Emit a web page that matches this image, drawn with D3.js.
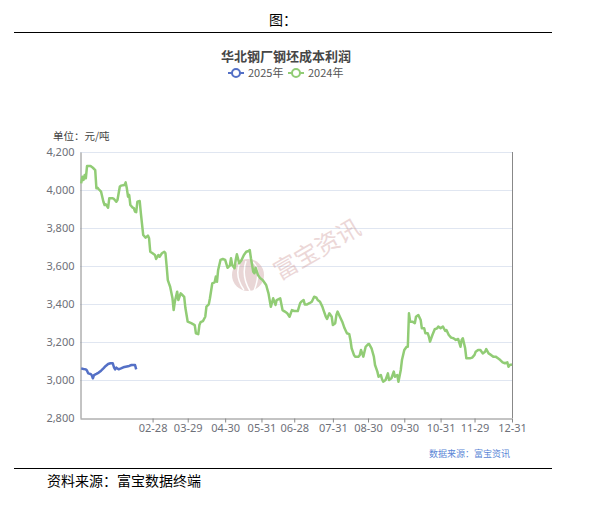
<!DOCTYPE html>
<html><head><meta charset="utf-8">
<script src="https://cdn.jsdelivr.net/npm/d3@7"></script>
<style>
html,body{margin:0;padding:0;background:#fff;}
svg{display:block;font-family:"Noto Sans CJK SC","Noto Sans",sans-serif;}
</style></head>
<body><svg id="c" width="600" height="506"></svg>
<script>
const title = "华北钢厂钢坯成本利润";
const seriesNames = ["2025年", "2024年"];
const yTicks = [2800, 3000, 3200, 3400, 3600, 3800, 4000, 4200];
const xTickDates = ["2024-02-28","2024-03-29","2024-04-30","2024-05-31","2024-06-28","2024-07-31","2024-08-30","2024-09-30","2024-10-31","2024-11-29","2024-12-31"];
const xDomain = ["2023-12-28", "2024-12-31"];

const dates2024 = [
"2023-12-29","2023-12-30","2023-12-31",
"2024-01-01","2024-01-02","2024-01-03","2024-01-06","2024-01-08","2024-01-10","2024-01-11","2024-01-12","2024-01-13","2024-01-15","2024-01-17","2024-01-18","2024-01-19","2024-01-21","2024-01-22","2024-01-25","2024-01-26","2024-01-28","2024-01-29","2024-01-31",
"2024-02-01","2024-02-04","2024-02-05","2024-02-06","2024-02-07","2024-02-08","2024-02-09","2024-02-11","2024-02-12","2024-02-13","2024-02-14","2024-02-15","2024-02-17","2024-02-18","2024-02-20","2024-02-22","2024-02-24","2024-02-25","2024-02-26","2024-02-28",
"2024-03-01","2024-03-02","2024-03-04","2024-03-05","2024-03-07","2024-03-09","2024-03-10","2024-03-11","2024-03-12","2024-03-14","2024-03-16","2024-03-17","2024-03-18","2024-03-20","2024-03-21","2024-03-23","2024-03-24","2024-03-26","2024-03-27","2024-03-29",
"2024-04-01","2024-04-04","2024-04-05","2024-04-07","2024-04-08","2024-04-09","2024-04-11","2024-04-13","2024-04-14","2024-04-16","2024-04-17","2024-04-19","2024-04-21","2024-04-22","2024-04-23","2024-04-24","2024-04-26","2024-04-28","2024-04-30",
"2024-05-02","2024-05-04","2024-05-05","2024-05-06","2024-05-08","2024-05-09","2024-05-10","2024-05-12","2024-05-14","2024-05-16","2024-05-18","2024-05-20","2024-05-21","2024-05-22","2024-05-24","2024-05-25","2024-05-26","2024-05-28","2024-05-29","2024-05-30",
"2024-06-01","2024-06-04","2024-06-06","2024-06-08","2024-06-10","2024-06-12","2024-06-13","2024-06-16","2024-06-18","2024-06-20","2024-06-22","2024-06-24","2024-06-26","2024-06-28",
"2024-07-01","2024-07-03","2024-07-04","2024-07-06","2024-07-07","2024-07-09","2024-07-11","2024-07-13","2024-07-15","2024-07-17","2024-07-18","2024-07-20","2024-07-22","2024-07-23","2024-07-25","2024-07-26","2024-07-28","2024-07-30","2024-07-31",
"2024-08-02","2024-08-03","2024-08-04","2024-08-06","2024-08-08","2024-08-10","2024-08-12","2024-08-14","2024-08-15","2024-08-16","2024-08-18","2024-08-19","2024-08-22","2024-08-23","2024-08-24","2024-08-26","2024-08-28","2024-08-30","2024-08-31",
"2024-09-02","2024-09-04","2024-09-05","2024-09-07","2024-09-08","2024-09-10","2024-09-11","2024-09-12","2024-09-14","2024-09-16","2024-09-17","2024-09-19","2024-09-21","2024-09-22","2024-09-24","2024-09-25","2024-09-27","2024-09-28","2024-09-30",
"2024-10-02","2024-10-03","2024-10-04","2024-10-05","2024-10-07","2024-10-09","2024-10-10","2024-10-12","2024-10-14","2024-10-15","2024-10-17","2024-10-18","2024-10-20","2024-10-21","2024-10-22","2024-10-24","2024-10-26","2024-10-28","2024-10-29","2024-10-31",
"2024-11-02","2024-11-04","2024-11-05","2024-11-07","2024-11-09","2024-11-11","2024-11-13","2024-11-15","2024-11-17","2024-11-18","2024-11-19","2024-11-21","2024-11-22","2024-11-25","2024-11-27","2024-11-29","2024-11-30",
"2024-12-02","2024-12-04","2024-12-06","2024-12-08","2024-12-09","2024-12-11","2024-12-13","2024-12-15","2024-12-17","2024-12-19","2024-12-21","2024-12-23","2024-12-25","2024-12-27","2024-12-28","2024-12-29","2024-12-31"
];
const values2024 = [
4035,4070,4053,
4079,4062,4126,4126,4117,4105,4009,4012,4004,3991,3938,3921,3925,3907,3956,3956,3953,3938,3947,4017,
4023,4026,4040,4009,3965,3974,3921,3907,3904,3886,3883,3938,3942,3877,3763,3749,3760,3746,3675,3667,
3658,3637,3658,3649,3667,3675,3667,3600,3526,3491,3430,3368,3412,3465,3421,3456,3450,3438,3380,3307,
3299,3289,3246,3241,3289,3304,3310,3333,3386,3398,3430,3509,3514,3544,3517,3579,3632,3637,3632,
3591,3602,3641,3605,3588,3632,3662,3614,3632,3658,3675,3679,3684,3641,3570,3562,3591,3553,3544,3535,
3526,3500,3456,3385,3430,3395,3421,3430,3368,3360,3351,3333,3368,3363,
3363,3404,3412,3421,3398,3398,3404,3412,3438,3433,3421,3412,3386,3368,3333,3321,3351,3333,3289,
3299,3342,3360,3333,3307,3272,3246,3241,3211,3167,3132,3123,3123,3132,3158,3123,3175,3188,3189,
3167,3123,3079,3044,3017,3026,3004,2991,3000,3035,3000,3009,3044,3017,3026,2991,3053,3105,3158,
3175,3175,3351,3307,3307,3299,3333,3342,3316,3272,3272,3246,3246,3228,3202,3237,3267,3272,3281,3272,
3281,3258,3263,3237,3223,3220,3211,3216,3175,3211,3220,3167,3114,3114,3118,3132,3149,
3158,3158,3140,3149,3163,3140,3132,3123,3123,3114,3105,3093,3088,3093,3070,3079,3082
];

const dates2025 = [
"2024-12-29","2024-12-31",
"2025-01-02","2025-01-03","2025-01-04","2025-01-06","2025-01-07","2025-01-08","2025-01-09","2025-01-11","2025-01-13","2025-01-15","2025-01-17","2025-01-19","2025-01-21","2025-01-23","2025-01-25","2025-01-26","2025-01-27","2025-01-28","2025-01-30",
"2025-02-01","2025-02-03","2025-02-05","2025-02-08","2025-02-10","2025-02-12","2025-02-13","2025-02-14"
];
const values2025 = [
3061,3058,
3056,3049,3035,3032,3026,3009,3026,3032,3039,3049,3061,3074,3084,3088,3088,3067,3056,3065,3056,
3061,3067,3070,3074,3079,3079,3079,3056
];

const colors = ["#5470c6", "#91cc75"];

const svg = d3.select("#c");
const parse = d3.timeParse("%Y-%m-%d");
const fmtTick = d3.timeFormat("%m-%d");

const plotL = 80, plotR = 512, plotT = 152, plotB = 418;
const x = d3.scaleTime().domain(xDomain.map(parse)).range([plotL, plotR]);
const y = d3.scaleLinear().domain([2800, 4200]).range([plotB, plotT]);

// header
svg.append("text").attr("x", 283).attr("y", 25).attr("text-anchor", "middle")
  .attr("font-size", 14).attr("fill", "#000").text("图：");
svg.append("line").attr("x1", 14).attr("x2", 552).attr("y1", 32.5).attr("y2", 32.5)
  .attr("stroke", "#000").attr("stroke-width", 1);

svg.append("text").attr("x", 286).attr("y", 61).attr("text-anchor", "middle")
  .attr("font-size", 13).attr("font-weight", "bold").attr("fill", "#464646").text(title);

// legend
const legendX = [228, 288];
seriesNames.forEach((n, i) => {
  const g = svg.append("g").attr("transform", `translate(${legendX[i]},73)`);
  g.append("line").attr("x1", 0).attr("x2", 16).attr("y1", 0).attr("y2", 0)
    .attr("stroke", colors[i]).attr("stroke-width", 2);
  g.append("circle").attr("cx", 8).attr("cy", 0).attr("r", 4)
    .attr("fill", "#fff").attr("stroke", colors[i]).attr("stroke-width", 2);
  g.append("text").attr("x", 20).attr("y", 4).attr("font-size", 11).attr("fill", "#555").text(n);
});

// unit label
svg.append("text").attr("x", 53).attr("y", 140).attr("font-size", 10.5).attr("fill", "#444").text("单位：元/吨");

// grid
svg.append("g").selectAll("line").data(yTicks.filter(v => v > 2800)).join("line")
  .attr("x1", plotL).attr("x2", plotR)
  .attr("y1", d => Math.round(y(d)) + 0.5).attr("y2", d => Math.round(y(d)) + 0.5)
  .attr("stroke", "#E0E6F1").attr("stroke-width", 1);

// watermark
const wm = svg.append("g").attr("opacity", 0.4);
wm.append("circle").attr("cx", 248).attr("cy", 275).attr("r", 16).attr("fill", "#c99a9a");
wm.append("path").attr("d", "M240,262 Q234,276 244,290 M246,261 Q241,276 250,291 M253,262 Q262,270 254,291")
  .attr("stroke", "#fff").attr("stroke-width", 1.5).attr("fill", "none");
svg.append("text").attr("transform", "translate(318,251) rotate(-30)")
  .attr("text-anchor", "middle").attr("dominant-baseline", "middle")
  .attr("font-size", 24).attr("fill", "#c98f8f").attr("opacity", 0.35).text("富宝资讯");

// y axis
const yAxis = d3.axisLeft(y).tickValues(yTicks).tickSize(0).tickPadding(6).tickFormat(d3.format(","));
const gy = svg.append("g").attr("transform", `translate(${plotL + 0.5},0)`).call(yAxis);
gy.select(".domain").attr("stroke", "#888");
gy.selectAll("text").attr("font-size", 11).attr("fill", "#6E7079").attr("font-family", "'Noto Sans',sans-serif");

// right axis line
svg.append("line").attr("x1", plotR + 0.5).attr("x2", plotR + 0.5).attr("y1", plotT).attr("y2", plotB)
  .attr("stroke", "#888");

// x axis
const xAxis = d3.axisBottom(x).tickValues(xTickDates.map(parse)).tickSize(4).tickSizeOuter(0)
  .tickPadding(2).tickFormat(fmtTick);
const gx = svg.append("g").attr("transform", `translate(0,${plotB + 0.5})`).call(xAxis);
gx.select(".domain").attr("stroke", "#888");
gx.selectAll(".tick line").attr("stroke", "#888");
gx.selectAll("text").attr("font-size", 11).attr("fill", "#6E7079").attr("font-family", "'Noto Sans',sans-serif");

// lines
const line = d3.line().x(d => x(d[0])).y(d => y(d[1]));
const data2024 = dates2024.map((d, i) => [parse(d), values2024[i]]);
const data2025 = dates2025.map((d, i) => [d3.timeYear.offset(parse(d), -1), values2025[i]]);
svg.append("path").datum(data2024).attr("d", line).attr("fill", "none")
  .attr("stroke", colors[1]).attr("stroke-width", 2.5).attr("stroke-linejoin", "round");
svg.append("path").datum(data2025).attr("d", line).attr("fill", "none")
  .attr("stroke", colors[0]).attr("stroke-width", 2.5).attr("stroke-linejoin", "round");

// source labels
svg.append("text").attr("x", 510).attr("y", 457).attr("text-anchor", "end")
  .attr("font-size", 9).attr("fill", "#5a86d6").text("数据来源：富宝资讯");
svg.append("line").attr("x1", 14).attr("x2", 552).attr("y1", 468.5).attr("y2", 468.5)
  .attr("stroke", "#000").attr("stroke-width", 1);
svg.append("text").attr("x", 47).attr("y", 486).attr("font-size", 14).attr("fill", "#000").text("资料来源：富宝数据终端");
</script></body></html>
